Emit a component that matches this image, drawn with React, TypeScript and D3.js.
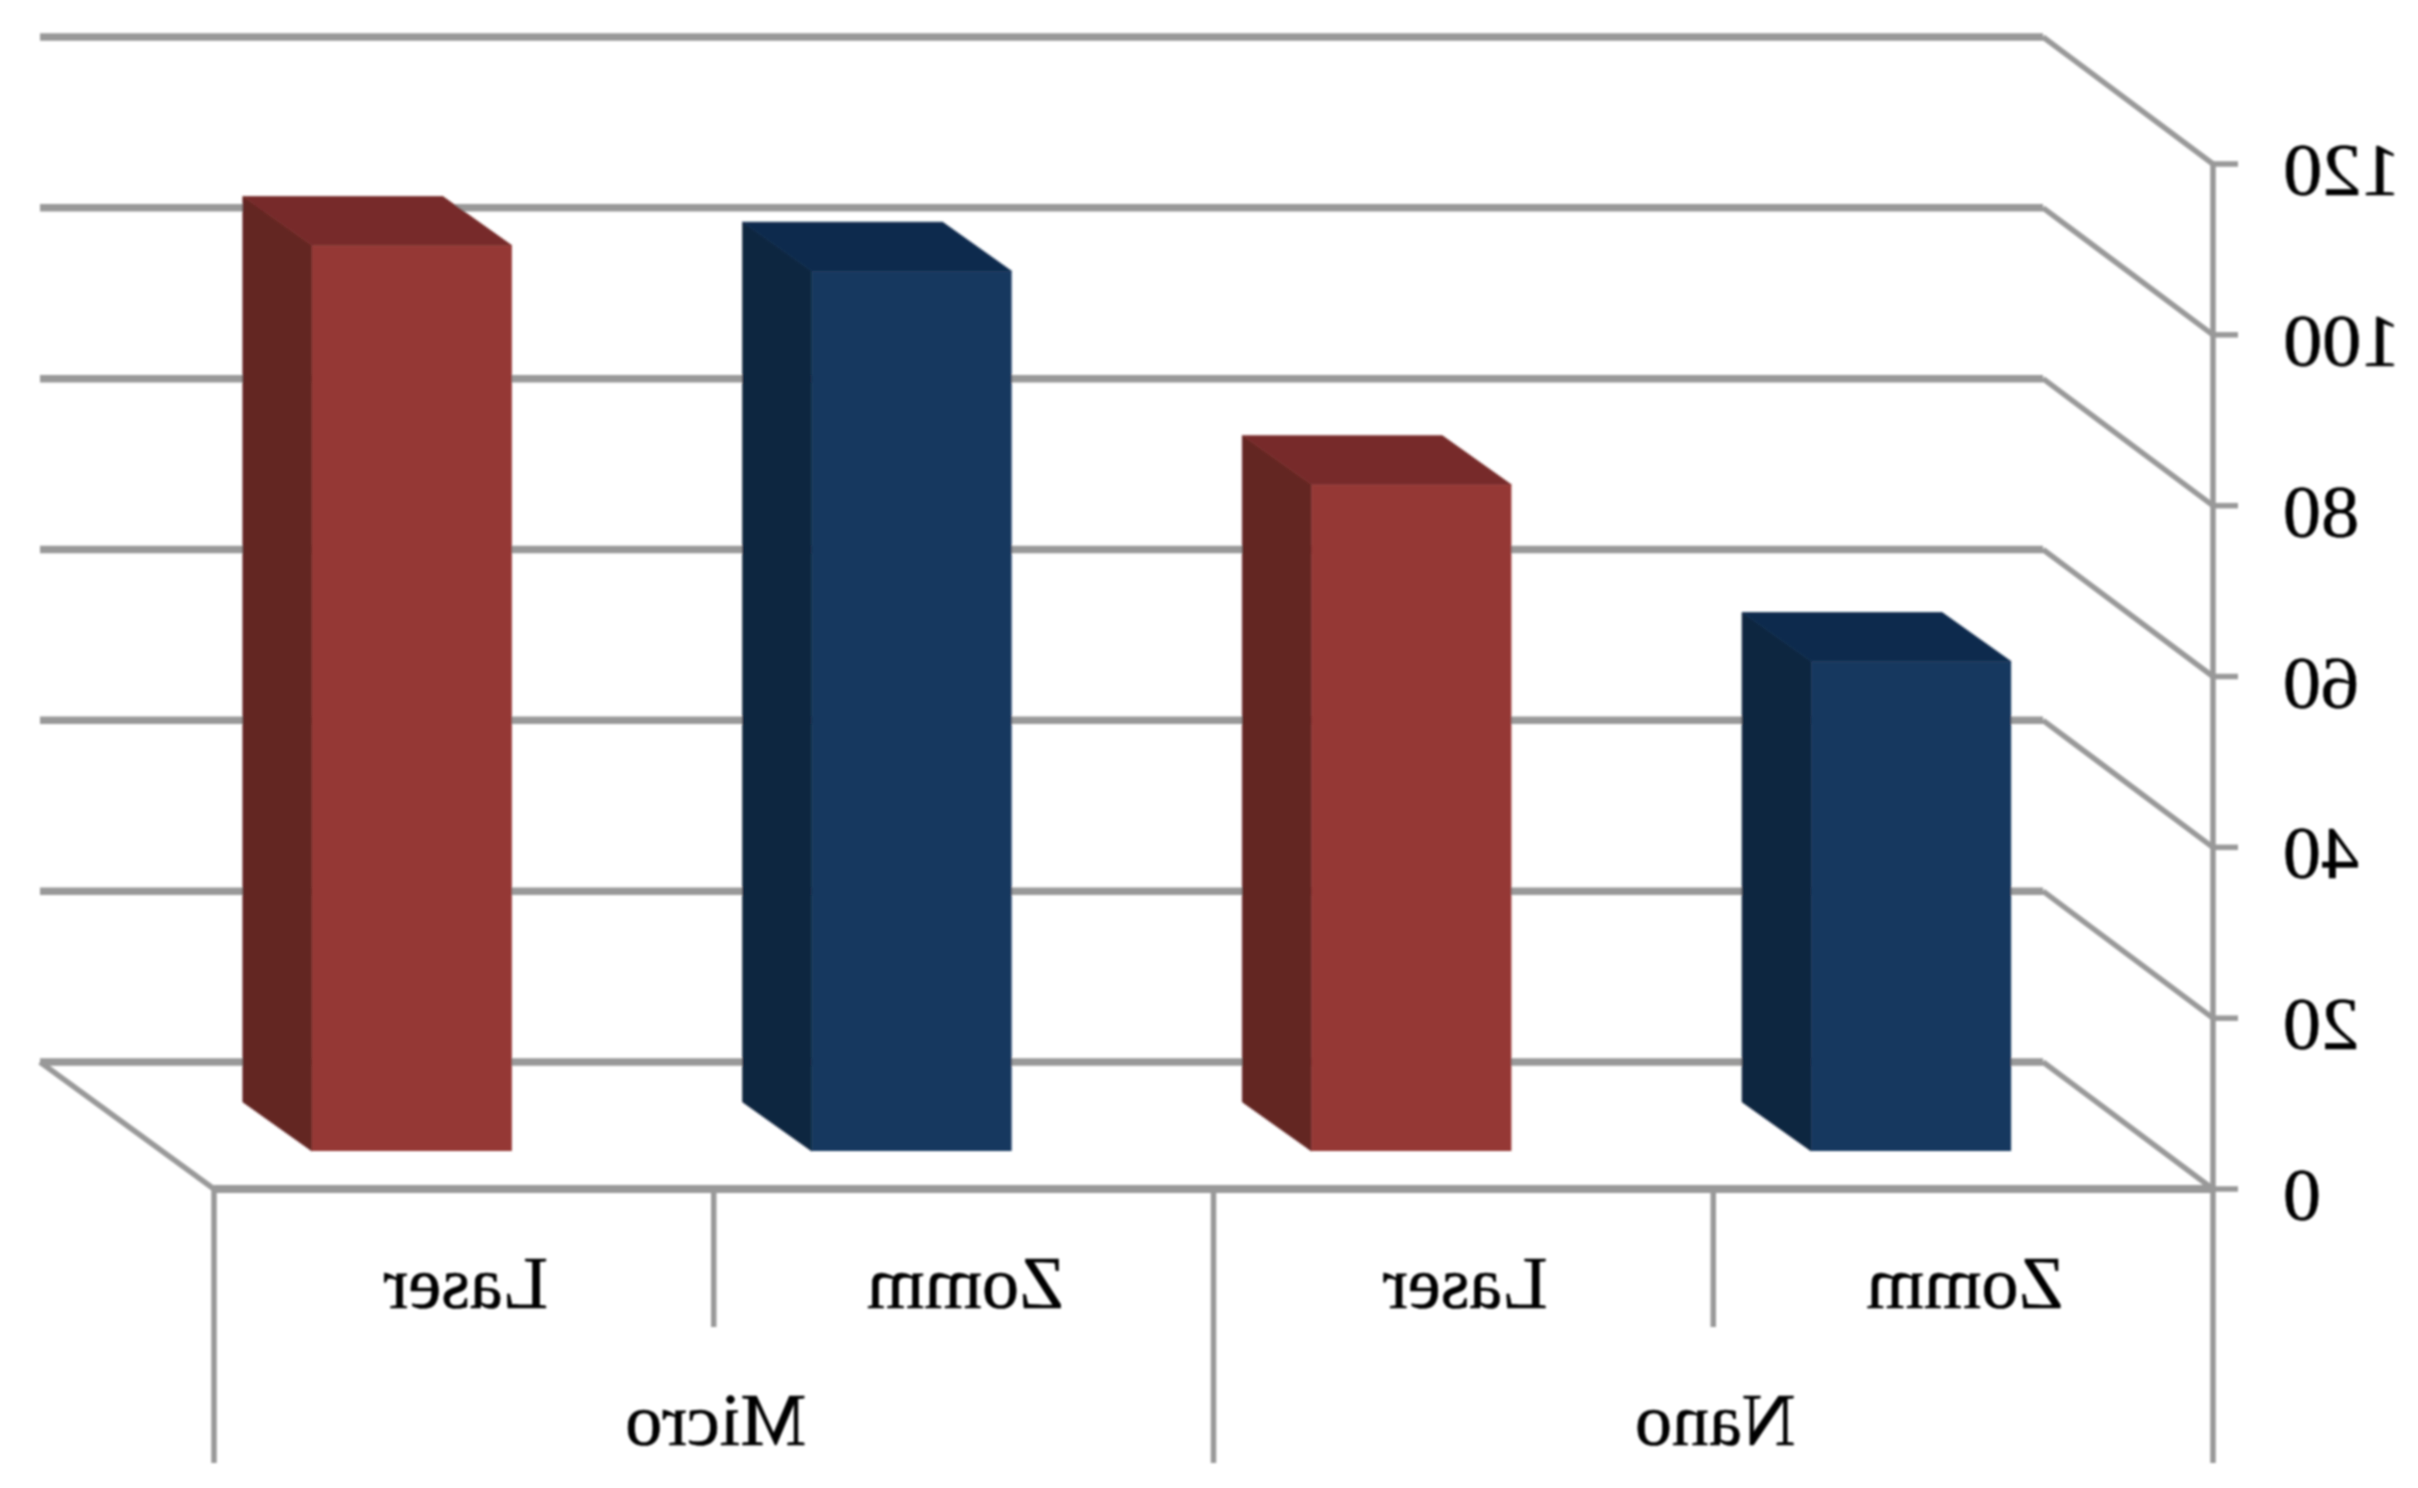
import React from "react";
import * as d3 from "d3";

const categories = ["Laser", "Zomm", "Laser", "Zomm"];
const groups = ["Micro", "Nano"];
const values = [106, 103, 78, 57.3];
const seriesIndex = [0, 1, 0, 1];
const yTicks = [0, 20, 40, 60, 80, 100, 120];
const frontColors = ["#953735", "#17375e"];
const sideColors = ["#632523", "#10253f"];
const topColors = ["#772c2a", "#112c4e"];

const W = 2418;
const H = 1488;
const AXIS_LEFT = 214;
const AXIS_RIGHT = 2213;
const WALL_RIGHT_DX = -170;
const WALL_LEFT_DX = -174;
const WALL_DY = -127;
const BAR_WIDTH = 200;
const BAR_SHIFT_X = -52;
const BAR_SHIFT_Y = -38;
const BAR_DEPTH_X = -69;
const BAR_DEPTH_Y = -49;
const GRID = "#999999";
const FONT = "'Liberation Serif', serif";
const FONT_SIZE = 74;

const y = d3.scaleLinear().domain([0, 120]).range([1189, 164]);
const x = d3.scaleBand<number>().domain(d3.range(categories.length)).range([AXIS_LEFT, AXIS_RIGHT]);
const xGroup = d3.scaleBand<string>().domain(groups).range([AXIS_LEFT, AXIS_RIGHT]);

const poly = (pts: [number, number][]) => d3.line()(pts) + "Z";

function Mirrored({
  x: tx,
  y: ty,
  anchor,
  stretch = 1,
  children,
}: {
  x: number;
  y: number;
  anchor: "middle" | "end";
  stretch?: number;
  children: string;
}) {
  return (
    <text
      transform={`translate(${tx},${ty}) scale(${-stretch},1)`}
      textAnchor={anchor}
      fontFamily={FONT}
      fontSize={FONT_SIZE}
      fill="#000"
      stroke="#000"
      strokeWidth={0.6}
    >
      {children}
    </text>
  );
}

export default function App() {
  const bandW = x.bandwidth();
  return (
    <svg width={W} height={H} style={{ position: "absolute", left: 0, top: 0, background: "#fff" }}>
      <defs>
        <filter id="soft" x="-2%" y="-2%" width="104%" height="104%">
          <feGaussianBlur stdDeviation="0.8" />
        </filter>
      </defs>
      <g filter="url(#soft)">
        {yTicks.map((t) => (
          <g key={t} fill="none" stroke={GRID}>
            <line
              x1={AXIS_LEFT + WALL_LEFT_DX}
              x2={AXIS_RIGHT + WALL_RIGHT_DX}
              y1={y(t) + WALL_DY}
              y2={y(t) + WALL_DY}
              strokeWidth={7.5}
            />
            <line
              x1={AXIS_RIGHT + WALL_RIGHT_DX}
              y1={y(t) + WALL_DY}
              x2={AXIS_RIGHT}
              y2={y(t)}
              strokeWidth={5.5}
            />
            <line x1={AXIS_RIGHT} x2={AXIS_RIGHT + 25} y1={y(t)} y2={y(t)} strokeWidth={5.5} />
          </g>
        ))}
        <line
          x1={AXIS_LEFT + WALL_LEFT_DX}
          y1={y(0) + WALL_DY}
          x2={AXIS_LEFT}
          y2={y(0)}
          stroke={GRID}
          strokeWidth={5.5}
        />
        <line x1={AXIS_LEFT} x2={AXIS_RIGHT} y1={y(0)} y2={y(0)} stroke={GRID} strokeWidth={8} />
        <line x1={AXIS_RIGHT} x2={AXIS_RIGHT} y1={y(120)} y2={1463} stroke={GRID} strokeWidth={5.5} />
        {categories.map((_, i) => (
          <line
            key={i}
            x1={x(i)!}
            x2={x(i)!}
            y1={y(0)}
            y2={i % 2 === 0 ? 1463 : 1327}
            stroke={GRID}
            strokeWidth={5.5}
          />
        ))}

        {values.map((v, i) => {
          const s = seriesIndex[i];
          const x0 = x(i)! + (bandW - BAR_WIDTH) / 2 + BAR_SHIFT_X;
          const x1 = x0 + BAR_WIDTH;
          const yBase = y(0) + BAR_SHIFT_Y;
          const yTop = yBase - (y(0) - y(v));
          const dx = BAR_DEPTH_X;
          const dy = BAR_DEPTH_Y;
          return (
            <g key={i}>
              <path
                d={poly([[x0, yBase], [x0 + dx, yBase + dy], [x0 + dx, yTop + dy], [x0, yTop]])}
                fill={sideColors[s]}
                stroke={sideColors[s]}
                strokeWidth={0.8}
              />
              <path
                d={poly([[x0, yTop], [x0 + dx, yTop + dy], [x1 + dx, yTop + dy], [x1, yTop]])}
                fill={topColors[s]}
                stroke={topColors[s]}
                strokeWidth={0.8}
              />
              <rect x={x0} y={yTop} width={BAR_WIDTH} height={yBase - yTop} fill={frontColors[s]} />
            </g>
          );
        })}

        {yTicks.map((t) => (
          <Mirrored key={t} x={2283} y={y(t) + 31} anchor="end" stretch={t >= 100 ? 1.06 : 1.03}>
            {String(t)}
          </Mirrored>
        ))}
        {categories.map((c, i) => (
          <Mirrored key={i} x={x(i)! + bandW / 2 + 2} y={1308} anchor="middle">
            {c}
          </Mirrored>
        ))}
        {groups.map((g) => (
          <Mirrored key={g} x={xGroup(g)! + xGroup.bandwidth() / 2 + 2} y={1445} anchor="middle">
            {g}
          </Mirrored>
        ))}
      </g>
    </svg>
  );
}
